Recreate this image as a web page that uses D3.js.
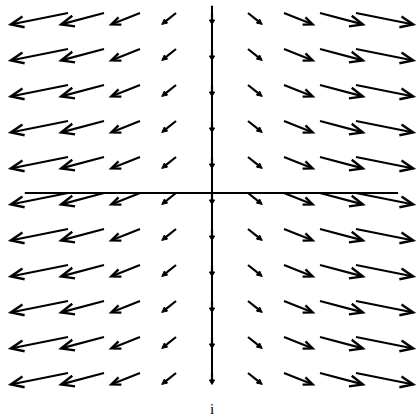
<!DOCTYPE html>
<html>
<head>
<meta charset="utf-8">
<script src="https://cdn.jsdelivr.net/npm/d3@7/dist/d3.min.js"></script>
<style>
  html, body { margin: 0; padding: 0; background: #fff; }
  svg { display: block; }
</style>
</head>
<body>
<svg id="chart" width="417" height="420"></svg>
<script>
// Grid of sample points and the field components at each of them
const gridX = [-4, -3, -2, -1, 0, 1, 2, 3, 4];
const gridY = [5, 4, 3, 2, 1, 0, -1, -2, -3, -4, -5];
const uByColumn = [-4, -3, -2, -1, 0, 1, 2, 3, 4];
const vByRow = [-0.8, -0.8, -0.8, -0.8, -0.8, -0.8, -0.8, -0.8, -0.8, -0.8, -0.8];
const axisLabel = "i";

const svg = d3.select("#chart");

const x = d3.scaleLinear().domain([-5, 5]).range([32, 392]);
const y = d3.scaleLinear().domain([5, -5]).range([13, 373]);
// vector length in pixels per unit of the field
const vecScale = d3.scaleLinear().domain([0, 1]).range([0, 14.3]);

// axis lines through the origin
const axisG = svg.append("g").attr("stroke", "#000").attr("stroke-width", 2);
axisG.append("line")
  .attr("x1", x(-5.2)).attr("x2", x(5.17))
  .attr("y1", y(0)).attr("y2", y(0));
axisG.append("line")
  .attr("x1", x(0)).attr("x2", x(0))
  .attr("y1", y(5.2)).attr("y2", y(-5.2));

const arrows = [];
gridY.forEach((gy, j) => {
  gridX.forEach((gx, i) => {
    arrows.push({ gx, gy, u: uByColumn[i], v: vByRow[j] });
  });
});

const g = svg.append("g");
arrows.forEach(a => {
  const x0 = x(a.gx), y0 = y(a.gy);
  const dx = vecScale(a.u), dy = -vecScale(a.v);
  const len = Math.hypot(dx, dy);
  const x1 = x0 + dx, y1 = y0 + dy;
  const ux = dx / len, uy = dy / len;
  const px = -uy, py = ux;
  const h = Math.max(4.5, Math.min(13, len * 0.3));
  const w = Math.max(2.6, h * 0.42);
  const bx = x1 - ux * h, by = y1 - uy * h;
  if (h < 8) {
    g.append("line")
      .attr("x1", x0).attr("y1", y0)
      .attr("x2", bx + ux * 1).attr("y2", by + uy * 1)
      .attr("stroke", "#000").attr("stroke-width", 2.2);
    g.append("path")
      .attr("d", `M${x1},${y1}L${bx + px * w},${by + py * w}L${bx - px * w},${by - py * w}Z`)
      .attr("fill", "#000").attr("stroke", "#000").attr("stroke-width", 1)
      .attr("stroke-linejoin", "miter");
  } else {
    g.append("line")
      .attr("x1", x0).attr("y1", y0)
      .attr("x2", x1 - ux * 1).attr("y2", y1 - uy * 1)
      .attr("stroke", "#000").attr("stroke-width", 2.2);
    g.append("path")
      .attr("d", `M${bx + px * w},${by + py * w}L${x1},${y1}L${bx - px * w},${by - py * w}`)
      .attr("fill", "none").attr("stroke", "#000").attr("stroke-width", 2.4)
      .attr("stroke-linejoin", "miter");
  }
});

svg.append("text")
  .attr("x", x(0)).attr("y", 414)
  .attr("text-anchor", "middle")
  .attr("fill", "#000")
  .attr("font-family", "Liberation Serif, Times New Roman, serif")
  .attr("font-size", 15)
  .text(axisLabel);
</script>
</body>
</html>
